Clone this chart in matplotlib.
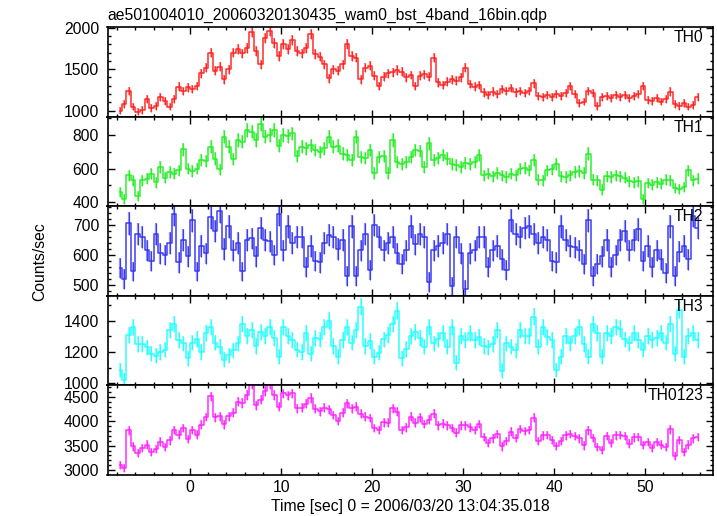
import numpy as np
import matplotlib
matplotlib.use("Agg")
import matplotlib.pyplot as plt
from matplotlib.ticker import MultipleLocator

plt.rcParams['font.family'] = ['Liberation Sans', 'DejaVu Sans']

title = "ae501004010_20060320130435_wam0_bst_4band_16bin.qdp"
xlabel = "Time [sec] 0 = 2006/03/20 13:04:35.018"
ylabel = "Counts/sec"

t_first = -7.75      # centre of first bin (s)
bin_width = 0.5      # s

th0 = [1000, 1080, 1240, 1050, 990, 1010, 1140, 1030, 1060, 1170,
       1120, 1050, 1140, 1290, 1240, 1280, 1260, 1300, 1450, 1520,
       1700, 1480, 1530, 1380, 1500, 1700, 1740, 1690, 1760, 1950,
       1720, 1560, 1880, 1960, 1820, 1660, 1800, 1740, 1850, 1720,
       1690, 1760, 1920, 1680, 1650, 1560, 1390, 1500, 1480, 1560,
       1800, 1660, 1640, 1380, 1520, 1540, 1420, 1300, 1410, 1450,
       1460, 1490, 1470, 1400, 1430, 1300, 1420, 1440, 1410, 1640,
       1340, 1310, 1350, 1380, 1360, 1400, 1520, 1320, 1290, 1310,
       1220, 1190, 1230, 1200, 1260, 1240, 1270, 1220, 1240, 1210,
       1240, 1330, 1180, 1160, 1190, 1170, 1200, 1180, 1210, 1300,
       1200, 1090, 1110, 1240, 1210, 1060, 1170, 1180, 1150, 1190,
       1160, 1190, 1150, 1180, 1200, 1300, 1130, 1120, 1150, 1110,
       1140, 1230, 1080, 1060, 1090, 1050, 1070, 1170]

th1 = [460, 420, 560, 530, 440, 530, 540, 570, 520, 610,
       545, 580, 570, 590, 715, 600, 585, 600, 650, 645,
       730, 660, 595, 790, 730, 655, 770, 760, 830, 820,
       770, 865, 790, 800, 830, 735, 800, 795, 810, 675,
       730, 720, 740, 710, 700, 720, 790, 730, 735, 690,
       680, 650, 790, 670, 665, 710, 575, 670, 675, 575,
       770, 640, 625, 640, 670, 710, 705, 610, 750, 650,
       665, 680, 660, 625, 620, 610, 635, 630, 640, 680,
       560, 570, 555, 575, 560, 550, 570, 560, 600, 605,
       590, 650, 535, 530, 590, 595, 630, 555, 550, 560,
       580, 585, 575, 690, 535, 530, 475, 555, 550, 560,
       555, 545, 525, 520, 525, 420, 515, 505, 520, 510,
       535, 530, 485, 480, 490, 590, 530, 540]

th2 = [555, 520, 705, 545, 670, 660, 615, 580, 670, 605,
       600, 640, 735, 575, 650, 595, 715, 545, 630, 605,
       725, 680, 745, 620, 695, 615, 640, 545, 650, 655,
       595, 690, 650, 645, 600, 735, 615, 695, 640, 660,
       660, 560, 630, 580, 575, 640, 665, 660, 620, 650,
       530, 695, 530, 615, 670, 550, 700, 660, 615, 640,
       660, 605, 570, 615, 695, 635, 670, 660, 510, 615,
       630, 640, 670, 495, 660, 605, 485, 605, 615, 660,
       660, 560, 615, 630, 585, 550, 715, 670, 660, 690,
       695, 670, 640, 660, 650, 580, 575, 695, 650, 630,
       625, 615, 570, 715, 530, 570, 595, 650, 560, 600,
       650, 680, 615, 650, 685, 580, 630, 560, 615, 585,
       540, 695, 530, 610, 630, 585, 730, 690]

th3 = [1085, 1020, 1310, 1360, 1250, 1250, 1230, 1190, 1175, 1200,
       1215, 1340, 1380, 1275, 1255, 1160, 1260, 1285, 1200, 1320,
       1360, 1260, 1235, 1150, 1180, 1210, 1255, 1380, 1300, 1340,
       1240, 1330, 1300, 1360, 1290, 1170, 1360, 1300, 1275, 1215,
       1200, 1320, 1190, 1290, 1280, 1360, 1400, 1240, 1170, 1275,
       1360, 1260, 1340, 1490, 1240, 1270, 1170, 1195, 1280, 1310,
       1380, 1465, 1160, 1220, 1300, 1330, 1290, 1235, 1360, 1255,
       1280, 1320, 1235, 1360, 1130, 1300, 1275, 1320, 1275, 1295,
       1240, 1230, 1250, 1340, 1080, 1255, 1235, 1210, 1340, 1300,
       1300, 1425, 1235, 1360, 1295, 1275, 1085, 1170, 1300, 1255,
       1300, 1360, 1250, 1170, 1380, 1320, 1170, 1320, 1300, 1360,
       1350, 1280, 1255, 1320, 1275, 1215, 1300, 1275, 1290, 1320,
       1260, 1380, 1190, 1470, 1170, 1300, 1320, 1275]

th0123 = [3100, 3040, 3815, 3485, 3350, 3450, 3525, 3370, 3425, 3585,
          3480, 3610, 3825, 3730, 3860, 3635, 3820, 3730, 3930, 4090,
          4515, 4080, 4105, 3940, 4105, 4180, 4405, 4375, 4540, 4765,
          4325, 4445, 4620, 4765, 4540, 4300, 4575, 4530, 4575, 4270,
          4280, 4360, 4480, 4260, 4205, 4280, 4245, 4130, 4005, 4175,
          4370, 4265, 4300, 4155, 4095, 4070, 3865, 3825, 3980, 3975,
          4270, 4200, 3825, 3875, 4095, 3975, 4085, 3945, 4030, 4160,
          3915, 3950, 3915, 3860, 3770, 3915, 3915, 3875, 3820, 3945,
          3680, 3550, 3650, 3745, 3485, 3595, 3790, 3660, 3840, 3805,
          3825, 4075, 3590, 3710, 3725, 3620, 3490, 3600, 3710, 3745,
          3705, 3650, 3505, 3815, 3655, 3480, 3410, 3705, 3560, 3710,
          3715, 3695, 3545, 3670, 3685, 3515, 3575, 3460, 3575, 3525,
          3475, 3835, 3285, 3620, 3380, 3525, 3650, 3675]

panel_names = ["TH0", "TH1", "TH2", "TH3", "TH0123"]
panel_data = [th0, th1, th2, th3, th0123]
panel_colors = ["#ff2020", "#22ee22", "#3333ee", "#22ffff", "#ff22ff"]
panel_ylims = [(930, 2008), (378, 910), (465, 763), (989, 1561), (2910, 4745)]
panel_major = [500, 200, 100, 200, 500]
panel_minor = [100, 100, 20, 100, 100]
xlim = (-9.07, 57.4)

W, H = 717, 516
fig = plt.figure(figsize=(W / 100, H / 100), dpi=100)
left_px, right_px = 107.5, 712.6
edges = [27, 116.5, 206, 295.5, 385, 474.5]

axes = []
for k in range(5):
    top, bot = edges[k], edges[k + 1]
    ax = fig.add_axes([left_px / W, 1 - bot / H, (right_px - left_px) / W, (bot - top) / H])
    axes.append(ax)
    vals = np.array(panel_data[k], dtype=float)
    t = t_first + bin_width * np.arange(len(vals))
    err = np.sqrt(vals / bin_width)
    c = panel_colors[k]
    ax.errorbar(t, vals, yerr=err, fmt='none',
                ecolor=c, elinewidth=1.6, alpha=0.5, capsize=0)
    ax.errorbar(t, vals, yerr=err, fmt='none',
                ecolor=c, elinewidth=0.8, alpha=0.9, capsize=0)
    ax.plot(t, vals, drawstyle='steps-mid', color=c, lw=1.1, alpha=0.95)
    ax.set_xlim(*xlim)
    ax.set_ylim(*panel_ylims[k])
    ax.xaxis.set_major_locator(MultipleLocator(10))
    ax.xaxis.set_minor_locator(MultipleLocator(2))
    ax.yaxis.set_major_locator(MultipleLocator(panel_major[k]))
    ax.yaxis.set_minor_locator(MultipleLocator(panel_minor[k]))
    ax.tick_params(which='both', direction='in', top=True, right=True,
                   labelsize=11.3, width=1.0, pad=6)
    ax.tick_params(which='major', length=5)
    ax.tick_params(which='minor', length=2.5)
    for sp in ax.spines.values():
        sp.set_linewidth(1.2)
    if k < 4:
        ax.tick_params(labelbottom=False)
    ax.text(0.985, 0.88, panel_names[k], transform=ax.transAxes,
            ha='right', va='center', fontsize=11.3)

axes[-1].tick_params(axis='x', pad=4)
fig.text(107 / W, 1 - 15.5 / H, title, ha='left', va='center', fontsize=11.3)
fig.text((left_px + right_px) / 2 / W, 1 - 507 / H, xlabel, ha='center', va='center', fontsize=11.3)
fig.text(40 / W, 1 - 262 / H, ylabel, ha='center', va='center', rotation=90, fontsize=11.3)

fig.savefig("out.png", dpi=100)
